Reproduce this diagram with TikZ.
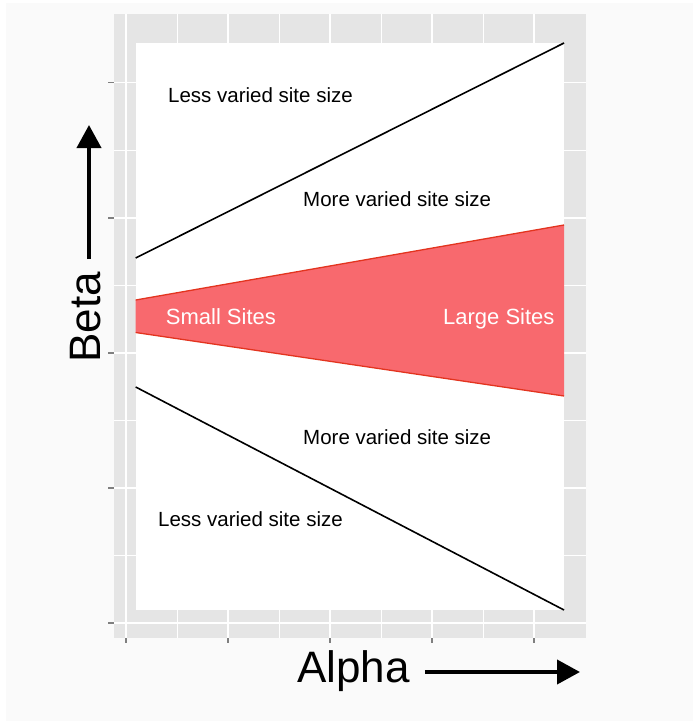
\documentclass[tikz,border=0pt]{standalone}
\usepackage{fontspec}
\setmainfont{Liberation Sans}
\usepackage{xcolor}
\usepackage{tikz}
\usetikzlibrary{calc}
\usetikzlibrary{arrows.meta}

\definecolor{pagegray}{HTML}{FAFAFA}
\definecolor{panelgray}{HTML}{E5E5E5}
\definecolor{tickgray}{HTML}{7F7F7F}
\definecolor{sitefill}{HTML}{F8696E}
\definecolor{siteedge}{HTML}{E3341F}

\tikzset{
  lbl/.style={font=\fontsize{20.5}{24}\selectfont, anchor=base west, inner sep=0pt},
  sitelbl/.style={lbl, font=\fontsize{22}{26}\selectfont, text=white},
  axlbl/.style={lbl, font=\fontsize{44}{52}\selectfont},
  axarrow/.style={line width=4pt, -{Triangle[length=23pt,width=24pt]}},
  majorgrid/.style={white, line width=1.4pt},
  minorgrid/.style={white, line width=0.7pt},
  axtick/.style={tickgray, line width=1.2pt},
}

\begin{document}
\begin{tikzpicture}[x=1pt, y=-1pt]
        %BACKGROUND
        \fill[white] (0,0) rectangle (693,721);
        \fill[pagegray] (6,3) rectangle (693,721);
        \useasboundingbox (0,0) rectangle (693,721);

        %PANEL
        \fill[panelgray] (114,14) rectangle (586,638);

        %GRID
        \foreach \x in {177,279,381,483} \draw[minorgrid] (\x,14) -- (\x,638);
        \foreach \y in {150,285,420,555} \draw[minorgrid] (114,\y) -- (586,\y);
        \foreach \x in {126,228,330,432,534} \draw[majorgrid] (\x,14) -- (\x,638);
        \foreach \y in {82.7,218,353,488,623} \draw[majorgrid] (114,\y) -- (586,\y);

        %TICKS
        \foreach \y in {82.7,218,353,488,623} \draw[axtick] (108,\y) -- (114,\y);
        \foreach \x in {126,228,330,432,534} \draw[axtick] (\x,638) -- (\x,643);

        %PLOT AREA
        \fill[white] (135.7,42.7) rectangle (564,610);

        %GRAFIK
        \draw[black, line width=1.6pt] (135.7,258) -- (564,43);
        \draw[black, line width=1.6pt] (135.7,387) -- (564,610);
        \fill[sitefill] (135.7,300) -- (564,225) -- (564,396) -- (135.7,332.5) -- cycle;
        \draw[siteedge, line width=1.3pt] (135.7,300) -- (564,225);
        \draw[siteedge, line width=1.3pt] (135.7,332.5) -- (564,396);

        %LABEL
        \node[lbl] (lessup) at (168,102) {Less varied site size};
        \node[lbl] (moreup) at (303,206) {More varied site size};
        \node[sitelbl] (small) at (165.7,324) {Small Sites};
        \node[sitelbl] (large) at (443,324) {Large Sites};
        \node[lbl] (moredown) at (303,444) {More varied site size};
        \node[lbl] (lessdown) at (158,526) {Less varied site size};

        %AXIS
        \node[axlbl, rotate=90] (beta) at (100,363) {Beta};
        \node[axlbl] (alpha) at (297,682) {Alpha};
        \coordinate (betatip) at (89,125);
        \coordinate (alphatip) at (580,672);
        \draw[axarrow, shorten <=13pt] (beta.east -| betatip) -- (betatip);
        \draw[axarrow, shorten <=15pt] (alpha.east |- alphatip) -- (alphatip);
    \end{tikzpicture}
\end{document}
